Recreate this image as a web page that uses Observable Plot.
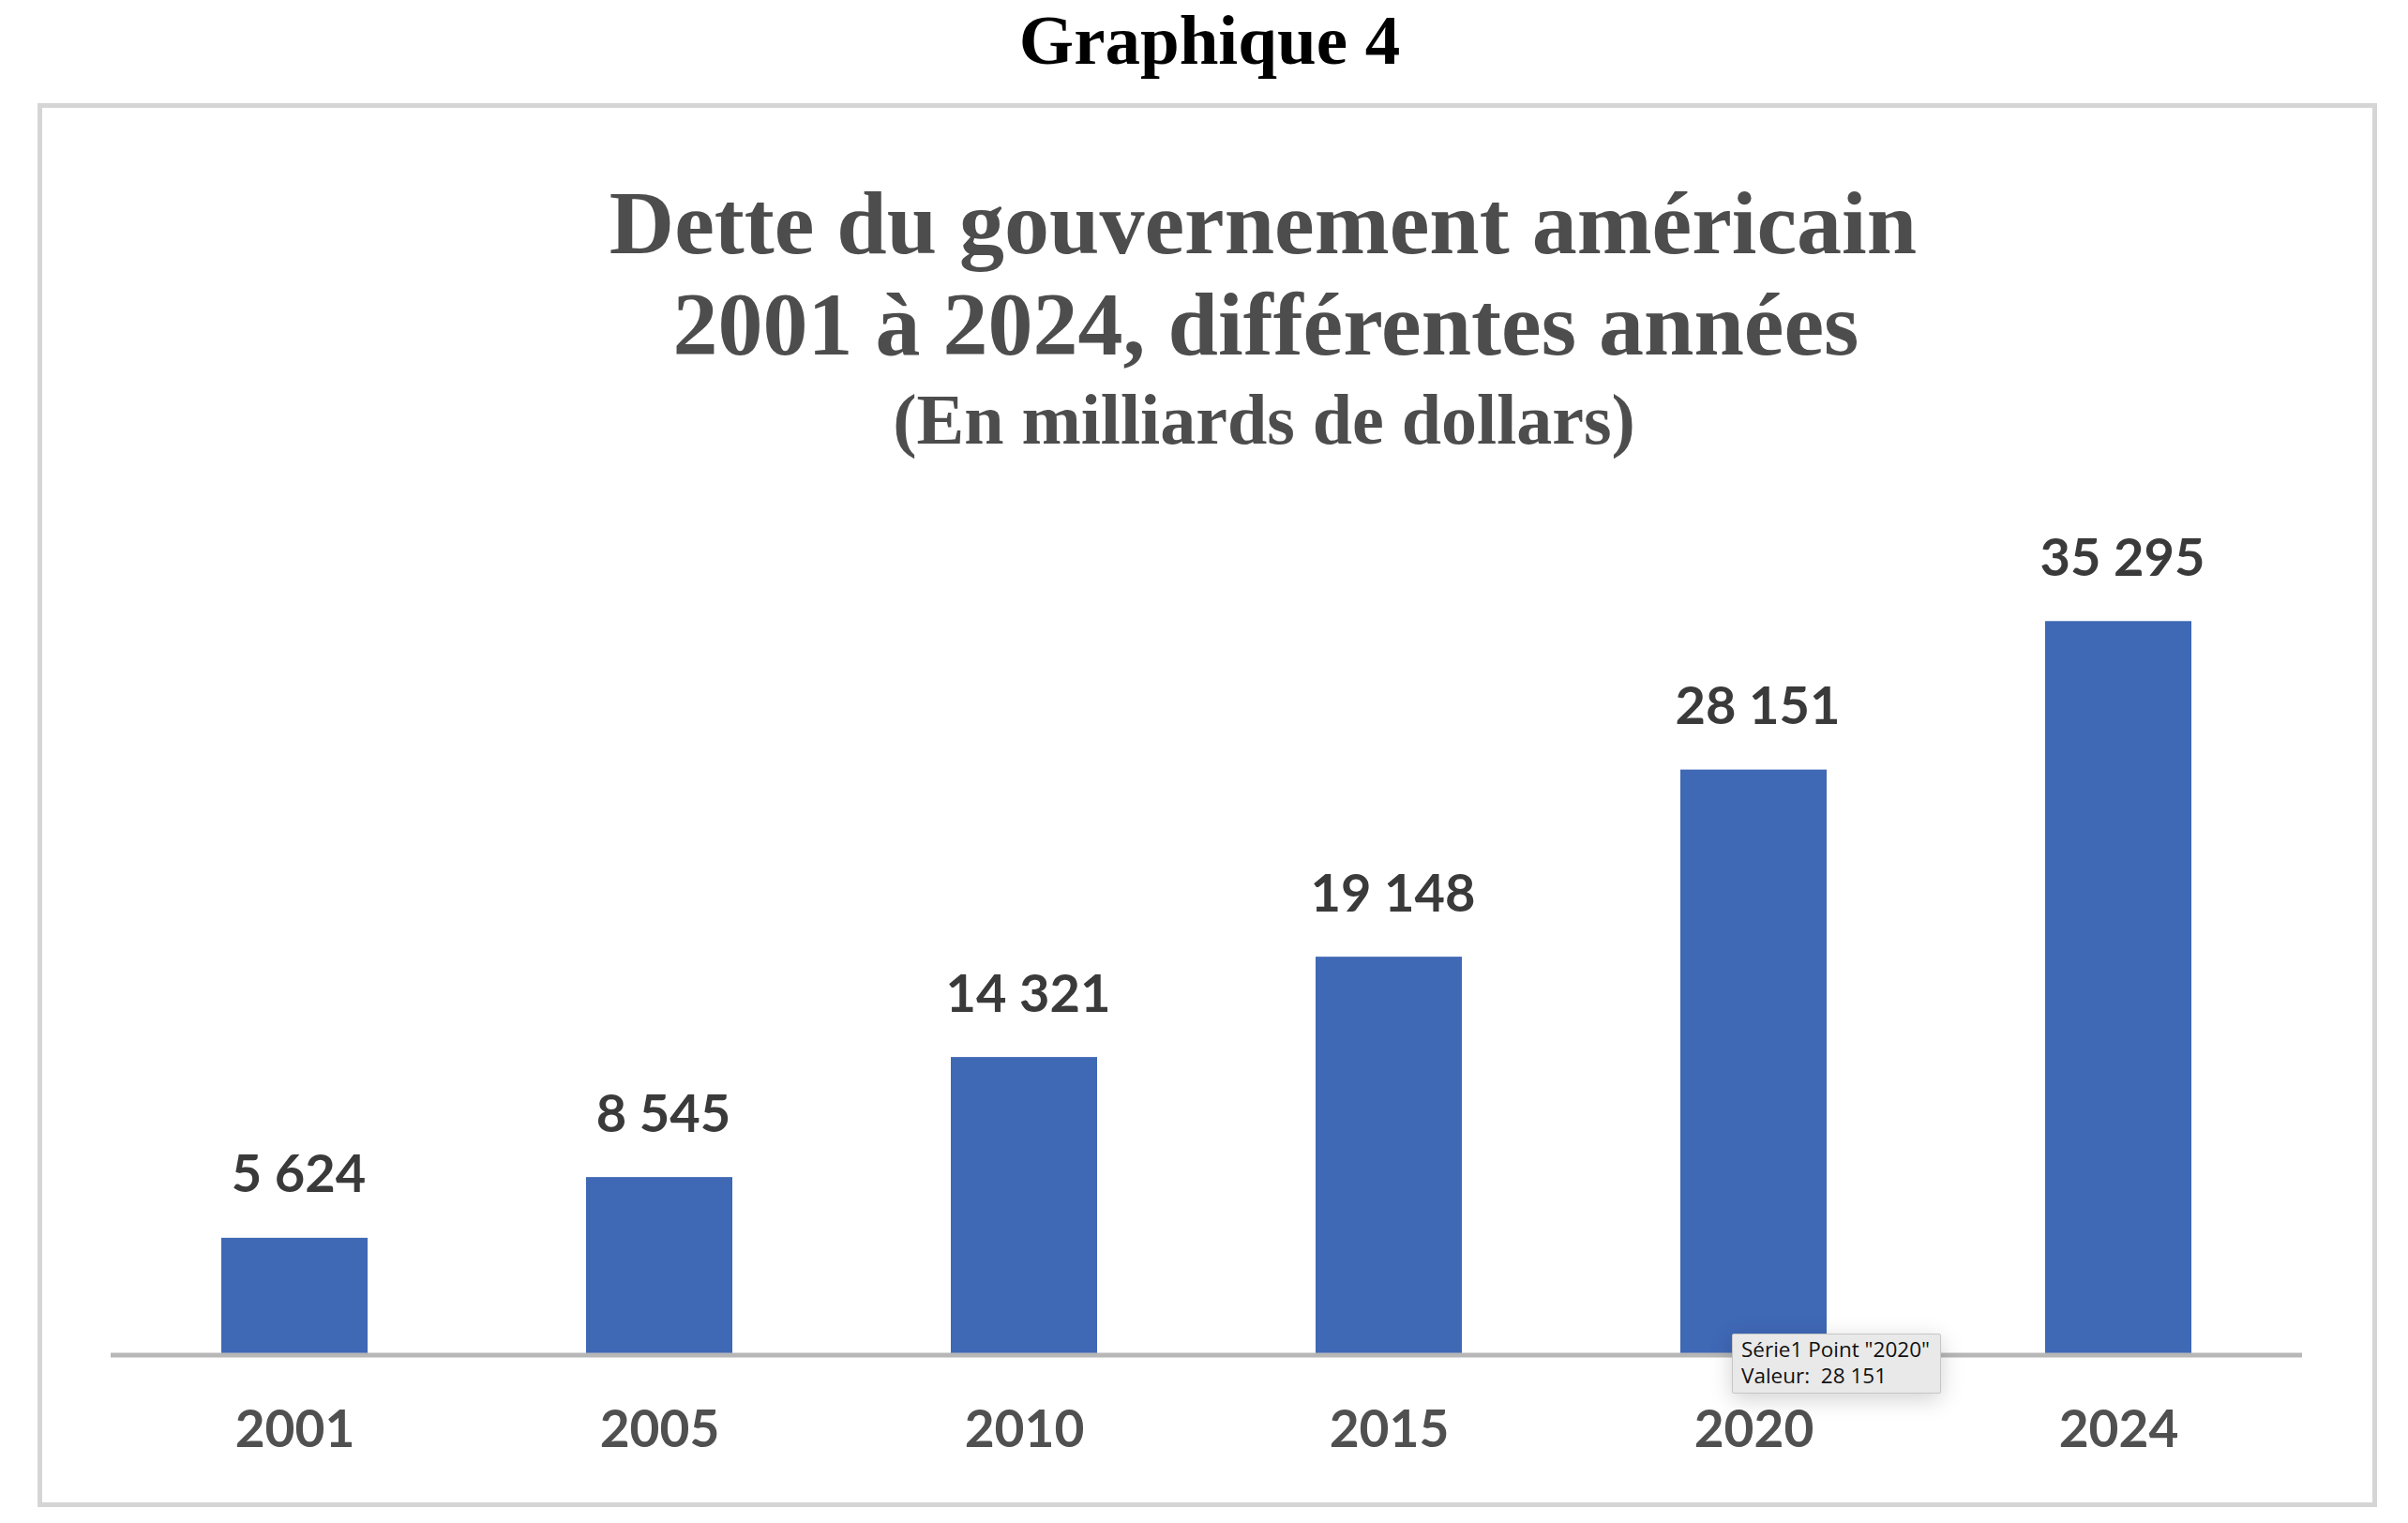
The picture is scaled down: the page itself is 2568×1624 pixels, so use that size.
<!DOCTYPE html>
<html>
<head>
<meta charset="utf-8">
<script src="https://cdn.jsdelivr.net/npm/d3@7"></script>
<script src="https://cdn.jsdelivr.net/npm/@observablehq/plot@0.6"></script>
<style>
  html, body { margin: 0; padding: 0; background: #ffffff; }
  #page { position: relative; width: 2568px; height: 1624px; overflow: hidden; background: #fff; }
  .title { position: absolute; white-space: nowrap; transform: translateX(-50%);
           font-family: "Liberation Serif", "Times New Roman", serif; font-weight: bold; line-height: 1; }
  #frame { position: absolute; left: 40px; top: 110px; width: 2495px; height: 1497px;
           box-sizing: border-box; border: 5px solid #d5d5d5; }
  #chart { position: absolute; left: 0; top: 480px; }
  #chart svg text { font-weight: 700; }
  #tip { position: absolute; left: 1847px; top: 1422px; width: 223px; height: 64px; box-sizing: border-box;
         background: #e9e9e9; border: 1px solid #c6c6c6; border-radius: 2px;
         box-shadow: 0 6px 24px rgba(0,0,0,0.18); padding: 2px 0 0 9px;
         font-family: "Open Sans", sans-serif; font-size: 22.5px; line-height: 28px; color: #111; white-space: nowrap; }
</style>
</head>
<body>
<div id="page">
  <div class="title" style="left:1290px; top:0px; font-size:75px; line-height:normal; color:#000;">Graphique 4</div>
  <div id="frame"></div>
  <div class="title" style="left:1347px; top:190px; font-size:96px; color:#4d4d4d;">Dette du gouvernement américain</div>
  <div class="title" style="left:1350px; top:298px; font-size:96px; color:#4d4d4d;">2001 à 2024, différentes années</div>
  <div class="title" style="left:1348px; top:409px; font-size:76px; color:#4d4d4d;">(En milliards de dollars)</div>
  <div id="chart"></div>
  <div id="tip"></div>
</div>
<script>
// Data
const years = ["2001", "2005", "2010", "2015", "2020", "2024"];
const debt = [5624, 8545, 14321, 19148, 28151, 35295];
const tooltipIndex = 4;

const fmt = v => String(v).replace(/\B(?=(\d{3})+(?!\d))/g, " ");
const data = years.map((y, i) => ({year: y, debt: debt[i]}));

const chart = Plot.plot({
  width: 2568,
  height: 1144,
  marginLeft: 118,
  marginRight: 113,
  marginTop: 78,
  marginBottom: 179.5,
  style: {fontFamily: "Lato, 'Open Sans', sans-serif", background: "transparent", overflow: "visible"},
  x: {type: "band", domain: years, paddingInner: 0.6, paddingOuter: 0.3, label: null},
  y: {domain: [0, 40000], axis: null},
  marks: [
    Plot.barY(data, {x: "year", y: "debt", fill: "#3f68b5"}),
    Plot.ruleY([0], {stroke: "#b7b7b7", strokeWidth: 5}),
    Plot.text(data, {x: "year", y: "debt", text: d => fmt(d.debt), dy: -67, dx: 4, fontSize: 56, fill: "#3a3a3a", fontWeight: "bold"}),
    Plot.axisX({tickSize: 0, tickPadding: 59, fontSize: 55, color: "#505050", fill: "#505050", label: null})
  ]
});
document.getElementById("chart").appendChild(chart);

document.getElementById("tip").innerHTML =
  `Série1 Point "${years[tooltipIndex]}"<br>Valeur:&nbsp; ${fmt(debt[tooltipIndex])}`;
</script>
</body>
</html>
